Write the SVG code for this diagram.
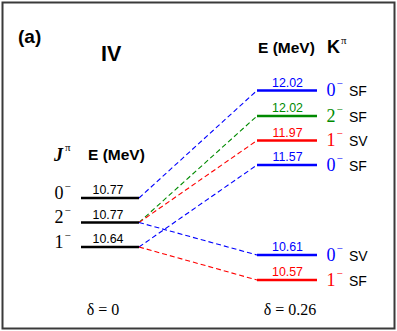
<svg xmlns="http://www.w3.org/2000/svg" width="397" height="331" viewBox="0 0 397 331">
<defs>
<style>
.frame{fill:#fff;stroke:#3a3a3a;stroke-width:2}
.lvl{stroke-width:2.4;fill:none}
.dash{stroke-width:1.1;fill:none;stroke-dasharray:5,3}
.num{font-family:"Liberation Sans",Arial,sans-serif;font-size:12.4px;text-anchor:middle}
.kp{font-family:"Liberation Serif","Times New Roman",serif;font-size:18px}
.sup{font-size:11px}
.typ{font-family:"Liberation Sans",Arial,sans-serif;font-size:14px;fill:#000}
.hdr{font-family:"Liberation Sans",Arial,sans-serif;font-weight:bold}
.del{font-family:"Liberation Serif","Times New Roman",serif;font-size:16px;text-anchor:middle}
.k{stroke:#000}.b{stroke:#0000ff}.g{stroke:#008a00}.r{stroke:#ff0000}
.tk{fill:#000}.tb{fill:#0000ff}.tg{fill:#008a00}.tr{fill:#ff0000}
</style>
</defs>
<rect class="frame" x="2.5" y="2.5" width="392" height="326"/>
<text class="hdr" x="18" y="43" font-size="19">(a)</text>
<text class="hdr" x="101" y="61" font-size="21.5">IV</text>
<g id="left-header">
<text x="54" y="161" font-family="'Liberation Serif','Times New Roman',serif" font-weight="bold" font-style="italic" font-size="18">J</text>
<text x="65" y="151" font-family="'Liberation Serif','Times New Roman',serif" font-size="11">π</text>
<text class="hdr" x="88" y="160" font-size="15.5">E (MeV)</text>
</g>
<g id="right-header">
<text class="hdr" x="258" y="53" font-size="15.5">E (MeV)</text>
<text class="hdr" x="327" y="53" font-size="18">K</text>
<text x="341" y="44" font-family="'Liberation Serif','Times New Roman',serif" font-size="11">π</text>
</g>
<g id="connectors">
<line class="dash b" x1="139" y1="198" x2="257" y2="90.5"/>
<line class="dash g" x1="139" y1="222.5" x2="257" y2="116"/>
<line class="dash r" x1="139" y1="222.5" x2="257" y2="140.5"/>
<line class="dash b" x1="139" y1="222.5" x2="257" y2="255"/>
<line class="dash b" x1="139" y1="247" x2="257" y2="165"/>
<line class="dash r" x1="139" y1="247" x2="257" y2="280"/>
</g>
<g id="L0">
<line class="lvl k" x1="81" y1="198" x2="139" y2="198"/>
<text class="num tk" x="108" y="194">10.77</text>
<text class="kp tk" x="54.5" y="198.5">0<tspan class="sup" dx="1" dy="-9">−</tspan></text>
</g>
<g id="L2">
<line class="lvl k" x1="81" y1="222.5" x2="139" y2="222.5"/>
<text class="num tk" x="108" y="218.5">10.77</text>
<text class="kp tk" x="54.5" y="223">2<tspan class="sup" dx="1" dy="-9">−</tspan></text>
</g>
<g id="L1">
<line class="lvl k" x1="81" y1="247" x2="139" y2="247"/>
<text class="num tk" x="108" y="243">10.64</text>
<text class="kp tk" x="54.5" y="247.5">1<tspan class="sup" dx="1" dy="-9">−</tspan></text>
</g>
<g id="R1">
<line class="lvl b" x1="257" y1="90.5" x2="317" y2="90.5"/>
<text class="num tb" x="287.5" y="86.5">12.02</text>
<text class="kp tb" x="326.5" y="96">0<tspan class="sup" dx="1" dy="-9">−</tspan></text>
<text class="typ" x="349" y="96">SF</text>
</g>
<g id="R2">
<line class="lvl g" x1="257" y1="116" x2="317" y2="116"/>
<text class="num tg" x="287.5" y="112">12.02</text>
<text class="kp tg" x="326.5" y="121.5">2<tspan class="sup" dx="1" dy="-9">−</tspan></text>
<text class="typ" x="349" y="121.5">SF</text>
</g>
<g id="R3">
<line class="lvl r" x1="257" y1="140.5" x2="317" y2="140.5"/>
<text class="num tr" x="287.5" y="136.5">11.97</text>
<text class="kp tr" x="326.5" y="146">1<tspan class="sup" dx="1" dy="-9">−</tspan></text>
<text class="typ" x="349" y="146">SV</text>
</g>
<g id="R4">
<line class="lvl b" x1="257" y1="165" x2="317" y2="165"/>
<text class="num tb" x="287.5" y="161">11.57</text>
<text class="kp tb" x="326.5" y="170.5">0<tspan class="sup" dx="1" dy="-9">−</tspan></text>
<text class="typ" x="349" y="170.5">SF</text>
</g>
<g id="R5">
<line class="lvl b" x1="257" y1="255" x2="317" y2="255"/>
<text class="num tb" x="287.5" y="251">10.61</text>
<text class="kp tb" x="326.5" y="260.5">0<tspan class="sup" dx="1" dy="-9">−</tspan></text>
<text class="typ" x="349" y="260.5">SV</text>
</g>
<g id="R6">
<line class="lvl r" x1="257" y1="280" x2="317" y2="280"/>
<text class="num tr" x="287.5" y="276">10.57</text>
<text class="kp tr" x="326.5" y="285.5">1<tspan class="sup" dx="1" dy="-9">−</tspan></text>
<text class="typ" x="349" y="285.5">SF</text>
</g>
<text class="del" x="103" y="315">δ = 0</text>
<text class="del" x="290" y="315">δ = 0.26</text>
</svg>
